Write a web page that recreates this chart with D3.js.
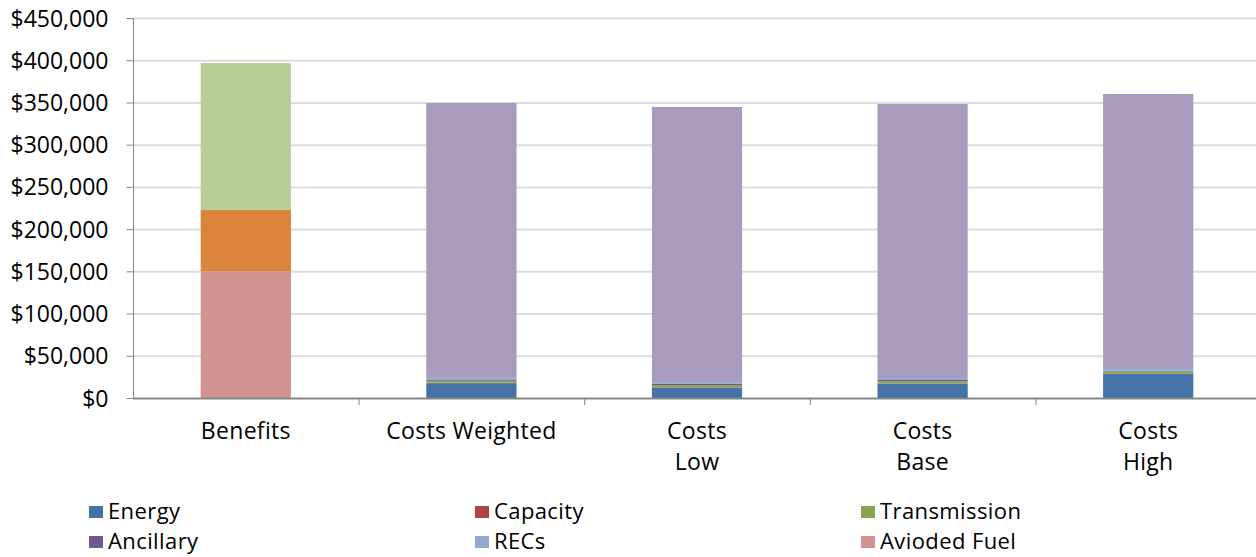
<!DOCTYPE html>
<html>
<head>
<meta charset="utf-8">
<script src="https://cdn.jsdelivr.net/npm/d3@7"></script>
<style>
  html, body { margin: 0; padding: 0; background: #fff; }
  svg text { font-family: "Open Sans", Lato, sans-serif; fill: #000; }
</style>
</head>
<body>
<svg id="chart" width="1256" height="557"></svg>
<script>
// Categories (second word drawn on its own line)
const categories = ["Benefits", "Costs Weighted", "Costs\nLow", "Costs\nBase", "Costs\nHigh"];

// Stacked series values, bottom to top, in dollars
const energy       = [0,      17500,  12200,  16600,  28400];
const capacity     = [0,        500,    500,    500,    500];
const transmission = [0,       2400,   2600,   2600,   2600];
const ancillary    = [0,       1000,   1500,   1600,   1000];
const recs         = [0,       2400,   2100,   2400,   3000];
const aviodedFuel  = [150000,     0,      0,      0,      0];
const avoidedCap   = [72600,      0,      0,      0,      0];
const avoidedOther = [174000,     0,      0,      0,      0];
const projectCost  = [0,     325600, 325700, 324500, 324500];

const seriesNames  = ["Energy", "Capacity", "Transmission", "Ancillary", "RECs",
                      "Avioded Fuel", "Avoided Capacity", "Avoided Other", "Project Cost"];
const seriesValues = [energy, capacity, transmission, ancillary, recs,
                      aviodedFuel, avoidedCap, avoidedOther, projectCost];
const seriesColors = ["#4572A7", "#AA4643", "#89A54E", "#71588F", "#93A9CF",
                      "#D19392", "#DB843D", "#B9CD96", "#A99BBD"];

// Legend entries shown (two rows of three)
const legendItems = ["Energy", "Capacity", "Transmission", "Ancillary", "RECs", "Avioded Fuel"];

const yTicks = [0, 50000, 100000, 150000, 200000, 250000, 300000, 350000, 400000, 450000];

const svg = d3.select("#chart");
const plot = { left: 133, right: 1261, top: 18, bottom: 398 };

const x = d3.scaleBand().domain(categories).range([plot.left, plot.right]).paddingInner(0.6).paddingOuter(0.3);
const xOuter = d3.scaleBand().domain(categories).range([plot.left, plot.right]);
const y = d3.scaleLinear().domain([0, 450000]).range([plot.bottom, plot.top]);

// Gridlines
svg.append("g").selectAll("line").data(yTicks.filter(d => d > 0)).join("line")
  .attr("x1", plot.left).attr("x2", 1256)
  .attr("y1", d => y(d) + 0.5).attr("y2", d => y(d) + 0.5)
  .attr("stroke", "#dcdcdc").attr("stroke-width", 2);

// Stack data
const rows = categories.map((c, i) => {
  const r = { cat: c };
  seriesNames.forEach((n, j) => r[n] = seriesValues[j][i]);
  return r;
});
const stack = d3.stack().keys(seriesNames)(rows);

svg.append("g").selectAll("g").data(stack).join("g")
  .attr("fill", (d, i) => seriesColors[i])
  .selectAll("rect").data(d => d).join("rect")
  .attr("x", d => x(d.data.cat))
  .attr("width", x.bandwidth())
  .attr("y", d => y(d[1]))
  .attr("height", d => Math.max(0, y(d[0]) - y(d[1])));

// Y axis
const yAxis = svg.append("g").attr("transform", `translate(${plot.left + 0.5},0)`)
  .call(d3.axisLeft(y).tickValues(yTicks).tickSize(7).tickPadding(18)
    .tickFormat(d => "$" + d3.format(",")(d)));
yAxis.selectAll("line").attr("stroke", "#868686");
yAxis.select(".domain").attr("stroke", "#868686").attr("d", `M-7,${plot.top + 0.5}H0V${plot.bottom}`);
yAxis.selectAll("text").attr("font-family", "Lato, sans-serif").attr("font-size", 23).attr("dy", "0.35em");

// X axis baseline with category separator ticks
const xg = svg.append("g");
xg.append("line").attr("x1", plot.left).attr("x2", 1256)
  .attr("y1", plot.bottom + 0.5).attr("y2", plot.bottom + 0.5)
  .attr("stroke", "#868686").attr("stroke-width", 2);
xg.selectAll("line.sep").data(categories.slice(1)).join("line").attr("class", "sep")
  .attr("x1", d => xOuter(d) + 0.5).attr("x2", d => xOuter(d) + 0.5)
  .attr("y1", plot.bottom).attr("y2", plot.bottom + 7)
  .attr("stroke", "#868686");

xg.selectAll("text").data(categories).join("text")
  .attr("text-anchor", "middle")
  .attr("font-size", 23)
  .attr("letter-spacing", 0.3)
  .attr("transform", d => `translate(${x(d) + x.bandwidth() / 2},${439})`)
  .each(function (d) {
    const lines = d.split("\n");
    d3.select(this).selectAll("tspan").data(lines).join("tspan")
      .attr("x", 0).attr("dy", (l, i) => i === 0 ? 0 : 31).text(l => l);
  });

// Legend
const legendX = [89, 475, 861];
const legend = svg.append("g");
legendItems.forEach((name, i) => {
  const col = i % 3, row = Math.floor(i / 3);
  const g = legend.append("g").attr("transform", `translate(${legendX[col]},${511 + row * 30})`);
  g.append("rect").attr("x", 0).attr("y", -5).attr("width", 14).attr("height", 12)
    .attr("fill", seriesColors[seriesNames.indexOf(name)]);
  g.append("text").attr("x", 19).attr("y", 0).attr("dy", "0.35em")
    .attr("font-size", 22).attr("letter-spacing", 0.4).text(name);
});
</script>
</body>
</html>
